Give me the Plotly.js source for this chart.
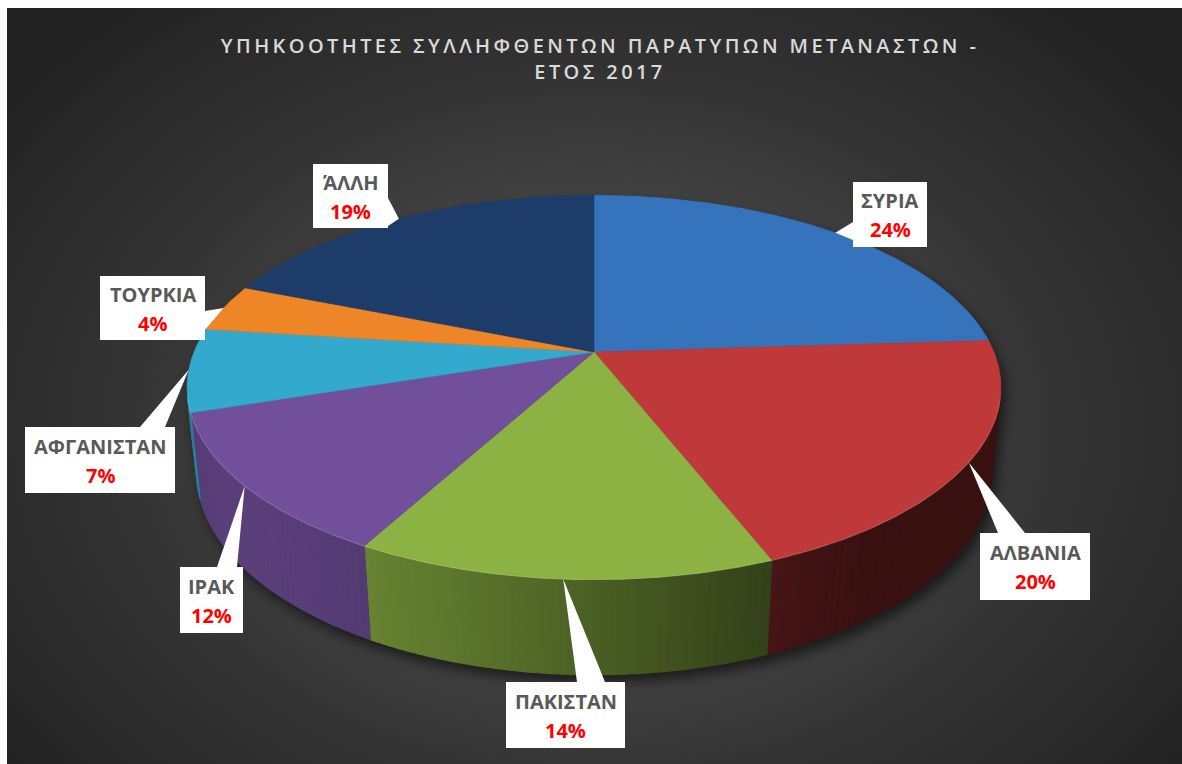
<!DOCTYPE html>
<html>
<head>
<meta charset="utf-8">
<script src="https://cdn.plot.ly/plotly-3.0.1.min.js"></script>
<style>
html,body{margin:0;padding:0;background:#ffffff;overflow:hidden;}
#wrap{position:absolute;left:7px;top:8px;width:1175px;height:756px;
  background:radial-gradient(ellipse 62% 72% at 50% 56%, #5a5a5a 0%, #4a4a4a 30%, #353535 62%, #232323 100%);}
#chart{width:1175px;height:756px;}
.gtitle{letter-spacing:3.4px;}
#chart .scatterlayer{filter:drop-shadow(4px 7px 6px rgba(0,0,0,0.55));}
</style>
</head>
<body>
<div id="wrap"><div id="chart"></div></div>
<script>
// ---------------- data ----------------
const categories = ['ΣΥΡΙΑ', 'ΑΛΒΑΝΙΑ', 'ΠΑΚΙΣΤΑΝ', 'ΙΡΑΚ', 'ΑΦΓΑΝΙΣΤΑΝ', 'ΤΟΥΡΚΙΑ', 'ΆΛΛΗ'];
const shares = [24, 20, 14, 12, 7, 4, 19];
const titleText = 'ΥΠΗΚΟΟΤΗΤΕΣ ΣΥΛΛΗΦΘΕΝΤΩΝ ΠΑΡΑΤΥΠΩΝ ΜΕΤΑΝΑΣΤΩΝ -<br>ΕΤΟΣ 2017';

// ---------------- styles ----------------
const topColors = ['#3673bd', '#c0393a', '#8cb243', '#714f9a', '#32a9cd', '#ee8527', '#1e3c6a'];

// label callout layout (page pixels): box centre, size, side of pointer, pointer base span
const labelLayout = [
  {cx: 890,  cy: 214.5, w: 74,  h: 65, side: 'left',  b0: 222, b1: 240},
  {cx: 1035, cy: 566.5, w: 110, h: 67, side: 'top',   b0: 998, b1: 1025},
  {cx: 565.5,cy: 715,   w: 119, h: 66, side: 'top',   b0: 577, b1: 605},
  {cx: 211.5,cy: 600,   w: 63,  h: 66, side: 'top',   b0: 217, b1: 237},
  {cx: 100,  cy: 460,   w: 150, h: 66, side: 'top',   b0: 140, b1: 165},
  {cx: 152.5,cy: 308,   w: 105, h: 64, side: 'right', b0: 311, b1: 330},
  {cx: 350.5,cy: 196,   w: 75,  h: 64, side: 'right', b0: 198, b1: 226}
];

// ---------------- 3D view ----------------
const VIEW = {cx: 594, cy: 352, F: 1920, dist: 4.80, tiltDeg: 27.65, h: 0.24};
const sinA = Math.sin(VIEW.tiltDeg * Math.PI / 180);
const cosA = Math.cos(VIEW.tiltDeg * Math.PI / 180);
const LIGHT = [-0.8, -0.6];

function project(X, Y, Z) {
  const depth = -Y * sinA + Z * cosA + VIEW.dist;
  const yc = Y * cosA + Z * sinA;
  return [VIEW.cx + VIEW.F * X / depth, VIEW.cy - VIEW.F * yc / depth];
}
function rim(thetaDeg, Y) {
  const t = thetaDeg * Math.PI / 180;
  return project(Math.sin(t), Y, Math.cos(t));
}
function shadeHex(hex, f) {
  const r = parseInt(hex.slice(1, 3), 16), g = parseInt(hex.slice(3, 5), 16), b = parseInt(hex.slice(5, 7), 16);
  const c = v => Math.max(0, Math.min(255, Math.round(v * f)));
  return 'rgb(' + c(r) + ',' + c(g) + ',' + c(b) + ')';
}
function wallFactor(thetaDeg) {
  const t = thetaDeg * Math.PI / 180;
  const d = Math.max(0, Math.sin(t) * LIGHT[0] + Math.cos(t) * LIGHT[1]);
  return 0.3 + 0.5 * Math.pow(d, 1.5);
}

const total = shares.reduce((a, b) => a + b, 0);
let acc = 0;
const slices = shares.map((v, i) => {
  const a0 = acc / total * 360; acc += v;
  const a1 = acc / total * 360;
  return {i, a0, a1, mid: (a0 + a1) / 2};
});

const visLim = Math.acos(-1 / (VIEW.dist * cosA)) * 180 / Math.PI;
const vis0 = visLim, vis1 = 360 - visLim;

const traces = [];
// side walls
slices.forEach(s => {
  const a = Math.max(s.a0, vis0), b = Math.min(s.a1, vis1);
  if (a >= b) return;
  const n = Math.max(1, Math.ceil((b - a) / 1));
  for (let k = 0; k < n; k++) {
    const t0 = a + (b - a) * k / n, t1 = a + (b - a) * (k + 1) / n;
    const xs = [], ys = [];
    const m = 2;
    for (let j = 0; j <= m; j++) { const p = rim(t0 + (t1 - t0) * j / m, 0); xs.push(p[0]); ys.push(p[1]); }
    for (let j = m; j >= 0; j--) { const p = rim(t0 + (t1 - t0) * j / m, -VIEW.h); xs.push(p[0]); ys.push(p[1]); }
    xs.push(xs[0]); ys.push(ys[0]);
    const col = shadeHex(topColors[s.i], wallFactor((t0 + t1) / 2));
    traces.push({type: 'scatter', mode: 'lines', x: xs, y: ys, fill: 'toself', fillcolor: col,
      line: {color: col, width: 1.2}, hoverinfo: 'skip', showlegend: false});
  }
});
// top faces
slices.forEach(s => {
  const apex = project(0, 0, 0);
  const xs = [apex[0]], ys = [apex[1]];
  const n = Math.max(2, Math.ceil((s.a1 - s.a0) / 0.5));
  for (let j = 0; j <= n; j++) { const p = rim(s.a0 + (s.a1 - s.a0) * j / n, 0); xs.push(p[0]); ys.push(p[1]); }
  xs.push(apex[0]); ys.push(apex[1]);
  traces.push({type: 'scatter', mode: 'lines', x: xs, y: ys, fill: 'toself', fillcolor: topColors[s.i],
    line: {color: topColors[s.i], width: 0.6}, hoverinfo: 'skip', showlegend: false, name: categories[s.i]});
});
// rim highlight on front edge
(function () {
  const xs = [], ys = [];
  for (let t = vis0; t <= vis1; t += 0.5) { const p = rim(t, 0); xs.push(p[0]); ys.push(p[1]); }
  traces.push({type: 'scatter', mode: 'lines', x: xs, y: ys, line: {color: 'rgba(255,255,255,0.16)', width: 1.2},
    hoverinfo: 'skip', showlegend: false});
})();

// callouts
const shapes = [], annotations = [];
slices.forEach(s => {
  const L = labelLayout[s.i];
  const tip = rim(s.mid, 0);
  const x0 = L.cx - L.w / 2, x1 = L.cx + L.w / 2, y0 = L.cy - L.h / 2, y1 = L.cy + L.h / 2;
  const pts = [[x0, y0]];
  if (L.side === 'top') pts.push([L.b0, y0], tip, [L.b1, y0]);
  pts.push([x1, y0]);
  if (L.side === 'right') pts.push([x1, L.b0], tip, [x1, L.b1]);
  pts.push([x1, y1]);
  if (L.side === 'bottom') pts.push([L.b1, y1], tip, [L.b0, y1]);
  pts.push([x0, y1]);
  if (L.side === 'left') pts.push([x0, L.b1], tip, [x0, L.b0]);
  const path = 'M' + pts.map(p => p[0].toFixed(1) + ',' + p[1].toFixed(1)).join(' L') + ' Z';
  shapes.push({type: 'path', xref: 'x', yref: 'y', path: path, fillcolor: '#ffffff',
    line: {color: 'rgba(0,0,0,0)', width: 0}, layer: 'above'});
  annotations.push({xref: 'x', yref: 'y', x: L.cx, y: L.cy - 14, text: categories[s.i], showarrow: false,
    font: {family: 'Open Sans', size: 20, color: '#595959', weight: 700}, xanchor: 'center', yanchor: 'middle'});
  annotations.push({xref: 'x', yref: 'y', x: L.cx, y: L.cy + 15, text: Math.round(shares[s.i] / total * 100) + '%',
    showarrow: false, font: {family: 'Open Sans', size: 20, color: '#ff0000', weight: 700}, xanchor: 'center', yanchor: 'middle'});
});

const layout = {
  width: 1175, height: 756,
  margin: {l: 0, r: 0, t: 0, b: 0},
  paper_bgcolor: 'rgba(0,0,0,0)', plot_bgcolor: 'rgba(0,0,0,0)',
  title: {text: titleText, x: 0.5047, xanchor: 'center', y: 0.941, yanchor: 'top', yref: 'container',
    font: {family: 'Open Sans', size: 20, color: '#d9d9d9', weight: 600}},
  xaxis: {range: [7, 1182], visible: false, fixedrange: true},
  yaxis: {range: [764, 8], visible: false, fixedrange: true},
  shapes: shapes, annotations: annotations, showlegend: false
};
Plotly.newPlot('chart', traces, layout, {displayModeBar: false, staticPlot: true});
</script>
</body>
</html>
